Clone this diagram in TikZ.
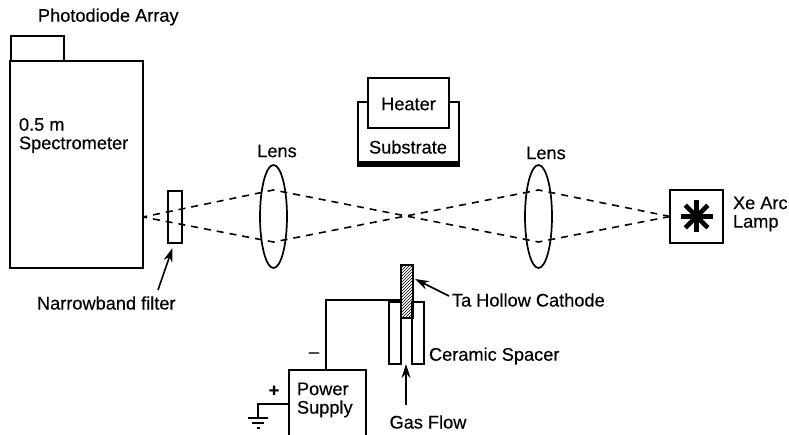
\documentclass[tikz,border=0pt]{standalone}
\usepackage{fontspec}
\setmainfont[FakeBold=0.35]{Liberation Sans}
\usetikzlibrary{shapes.geometric,arrows.meta,patterns}
\tikzset{
  x=1pt,y=-1pt,
  every node/.style={inner sep=0pt,outer sep=0pt},
  box/.style={draw=black,line width=1.7pt,rectangle,fill=white},
  lens/.style={draw=black,line width=1.7pt,ellipse,minimum width=27pt,minimum height=103pt},
  wire/.style={draw=black,line width=1.6pt},
  ray/.style={draw=black,line width=1.6pt,dash pattern=on 7pt off 6pt},
  pointer/.style={draw=black,line width=1.6pt,-{Stealth[length=14pt,width=9pt]}},
  lbl/.style={font=\fontsize{18.2}{18.5}\selectfont,text=black},
  lleft/.style={lbl,align=left,anchor=west},
  hatchbox/.style={draw=black,line width=1.7pt,rectangle,pattern=north east lines,pattern color=black}
}
\begin{document}
\begin{tikzpicture}
\useasboundingbox (0,0) rectangle (789,435);
% rays
\coordinate (sp) at (143,217);
\node[lens] (L1) at (273.5,216.5) {};
\node[lens] (L2) at (538.5,216.5) {};
\coordinate (L1t) at (273.5,190);
\coordinate (L1b) at (273.5,242);
\coordinate (L2t) at (538.5,190);
\coordinate (L2b) at (538.5,242);
\node[box,minimum width=53pt,minimum height=53pt] (lamp) at (696.5,216.5) {};
\path[ray] (lamp.west) -- (L2t) -- (L1b) -- (sp);
\path[ray] (lamp.west) -- (L2b) -- (L1t) -- (sp);
% spectrometer
\node[box,minimum width=53pt,minimum height=25pt] (pda) at (37.5,48.5) {};
\node[box,minimum width=133pt,minimum height=207pt] (spec) at (76.5,164.5) {};
\node[lleft] (pdal) at (38,17) {Photodiode Array};
\node[lleft] (specl) at (19,135.5) {0.5 m\\Spectrometer};
% filter
\node[draw=black,line width=1.7pt,rectangle,minimum width=14pt,minimum height=52pt] (filt) at (175,217) {};
\node[lleft] (filtl) at (37,303) {Narrowband filter};
\coordinate (ftail) at (158,290);
\draw[pointer] (ftail) -- (172.5,248);
% lens labels
\node[lbl] (l1l) at (277,151) {Lens};
\node[lbl] (l2l) at (546,153) {Lens};
% lamp star
\foreach \a in {0,45,...,315}{\draw[line width=4.6pt,black] (lamp.center) -- ++(\a:16);}
\node[lleft] (xe) at (733,214) {Xe Arc\\Lamp};
% substrate
\coordinate (sa) at (368,102);
\coordinate (sb) at (358,102);
\coordinate (sc) at (358,164);
\coordinate (sd) at (459,164);
\coordinate (se) at (459,102);
\coordinate (sf) at (449,102);
\draw[wire,line width=1.7pt] (sa) -- (sb) -- (sc);
\draw[wire,line width=1.7pt] (sd) -- (se) -- (sf);
\fill[black] (357,161) rectangle (460,167.5);
\node[box,minimum width=81pt,minimum height=50pt] (heater) at (408.5,103) {};
\node[lbl] (heatl) at (408.5,104) {Heater};
\node[lbl] (subl) at (408,147) {Substrate};
% cathode and spacer
\node[draw=black,line width=1.7pt,rectangle,minimum width=12pt,minimum height=62pt] (cl) at (395,333) {};
\node[draw=black,line width=1.7pt,rectangle,minimum width=12pt,minimum height=62pt] (cr) at (418,333) {};
\node[hatchbox,minimum width=12pt,minimum height=53pt] (cath) at (407,291.5) {};
\node[lleft] (cathl) at (452,300) {Ta Hollow Cathode};
\coordinate (ctail) at (449,296);
\draw[pointer] (ctail) -- (415,279);
\node[lleft] (cerl) at (429,356) {Ceramic Spacer};
\coordinate (gtail) at (406,405);
\coordinate (ghead) at (406,364);
\draw[pointer] (gtail) -- (ghead);
\node[lbl] (gasl) at (428,422) {Gas Flow};
% power supply (cut off by the bottom edge)
\coordinate (pa) at (289,436);
\coordinate (pb) at (289,370);
\coordinate (pc) at (366,370);
\coordinate (pd) at (366,436);
\draw[wire,line width=1.7pt] (pa) -- (pb) -- (pc) -- (pd);
\coordinate (ptop) at (326,370);
\coordinate (corner) at (326,300);
\coordinate (catw) at (401,300);
\draw[wire] (ptop) -- (corner) -- (catw);
\node[lleft] (psl) at (297,400) {Power\\Supply};
\node[lbl] (minus) at (314,355) {–};
\node[lbl] (plus) at (274,391) {\textbf{+}};
% ground
\coordinate (g0) at (289,404);
\coordinate (g1) at (258,404);
\coordinate (g2) at (258,418);
\draw[wire] (g0) -- (g1) -- (g2);
\draw[wire] (248,418) -- (268,418);
\draw[wire] (252,423) -- (264,423);
\draw[wire] (256.5,428) -- (259.5,428);
\end{tikzpicture}
\end{document}
